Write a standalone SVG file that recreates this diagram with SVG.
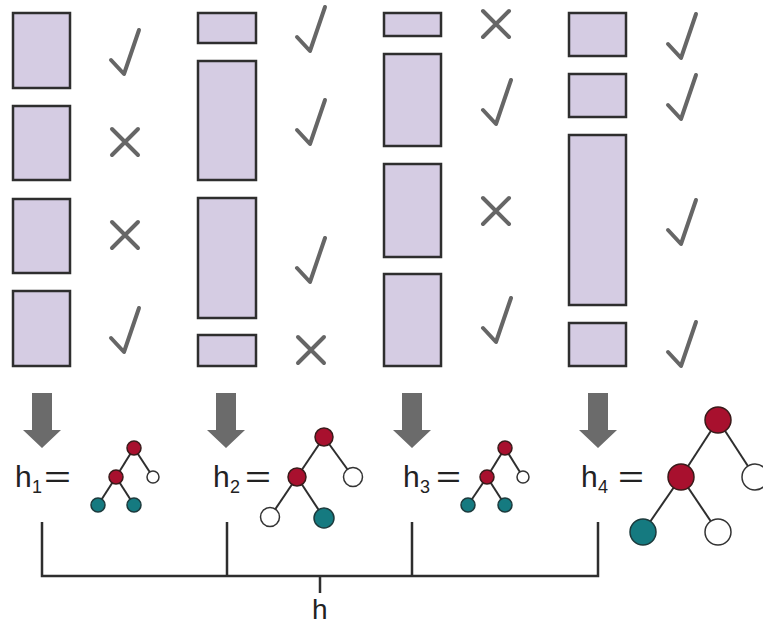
<svg xmlns="http://www.w3.org/2000/svg" xmlns:xlink="http://www.w3.org/1999/xlink" width="763" height="627" viewBox="0 0 763 627">
<style>
.bar{fill:#d5cce3;stroke:#2e2e2e;stroke-width:2.5}
.mark{fill:none;stroke:#666;stroke-width:4;stroke-linecap:round;stroke-linejoin:round}
.arrow{fill:#6b6b6b}
.edge{stroke:#2e2e2e;stroke-width:2;fill:none}
.red{fill:#a8102e;stroke:#3a1a1a;stroke-width:1.5}
.teal{fill:#157a80;stroke:#1c3a3c;stroke-width:1.5}
.wht{fill:#fff;stroke:#333;stroke-width:1.5}
.lbl{font-family:"Liberation Sans",Arial,sans-serif;fill:#222}
.brk{stroke:#2e2e2e;stroke-width:2.5;fill:none}
</style>
<defs>
<path id="chk" d="M-13,-14 L0,0 L15,-44"/>
<path id="xx" d="M-13,-13 L13,13 M13,-13 L-13,13"/>
<path id="arr" d="M-10,393 H10 V430 H19 L0,448 L-19,430 H-10 Z"/>
</defs>
<rect width="763" height="627" fill="#fff"/>

<g id="column1">
<rect class="bar" x="13" y="13" width="57" height="75"/>
<rect class="bar" x="13" y="106" width="57" height="74"/>
<rect class="bar" x="13" y="199" width="57" height="74"/>
<rect class="bar" x="13" y="291" width="57" height="75"/>
<use href="#chk" class="mark" x="124" y="74"/>
<use href="#xx" class="mark" x="125" y="142"/>
<use href="#xx" class="mark" x="125" y="235"/>
<use href="#chk" class="mark" x="124" y="352"/>
</g>

<g id="column2">
<rect class="bar" x="198" y="13" width="58" height="30"/>
<rect class="bar" x="198" y="61" width="58" height="119"/>
<rect class="bar" x="198" y="198" width="58" height="120"/>
<rect class="bar" x="198" y="335" width="58" height="31"/>
<use href="#chk" class="mark" x="310" y="51"/>
<use href="#chk" class="mark" x="310" y="144"/>
<use href="#chk" class="mark" x="310" y="282"/>
<use href="#xx" class="mark" x="311" y="350"/>
</g>

<g id="column3">
<rect class="bar" x="384" y="13" width="57" height="23"/>
<rect class="bar" x="384" y="54" width="57" height="92"/>
<rect class="bar" x="384" y="164" width="57" height="93"/>
<rect class="bar" x="384" y="274" width="57" height="92"/>
<use href="#xx" class="mark" x="496" y="24"/>
<use href="#chk" class="mark" x="496" y="124"/>
<use href="#xx" class="mark" x="496" y="211"/>
<use href="#chk" class="mark" x="496" y="342"/>
</g>

<g id="column4">
<rect class="bar" x="569" y="13" width="57" height="43"/>
<rect class="bar" x="569" y="74" width="57" height="43"/>
<rect class="bar" x="569" y="135" width="57" height="170"/>
<rect class="bar" x="569" y="323" width="57" height="43"/>
<use href="#chk" class="mark" x="681" y="58"/>
<use href="#chk" class="mark" x="681" y="119"/>
<use href="#chk" class="mark" x="681" y="244"/>
<use href="#chk" class="mark" x="681" y="366"/>
</g>

<g id="arrows">
<use href="#arr" class="arrow" x="42"/>
<use href="#arr" class="arrow" x="226"/>
<use href="#arr" class="arrow" x="412"/>
<use href="#arr" class="arrow" x="598"/>
</g>

<g id="h1">
<text class="lbl" x="15" y="487" font-size="30">h</text>
<text class="lbl" x="32" y="493" font-size="18">1</text>
<text class="lbl" x="44" y="487" font-size="30" textLength="27" lengthAdjust="spacingAndGlyphs">=</text>
<g id="tree1">
<line class="edge" x1="134" y1="448" x2="116" y2="477"/>
<line class="edge" x1="134" y1="448" x2="153" y2="477"/>
<line class="edge" x1="116" y1="477" x2="98" y2="505"/>
<line class="edge" x1="116" y1="477" x2="134" y2="505"/>
<circle class="red" cx="134" cy="448" r="7"/>
<circle class="red" cx="116" cy="477" r="7"/>
<circle class="wht" cx="153" cy="477" r="6"/>
<circle class="teal" cx="98" cy="505" r="7"/>
<circle class="teal" cx="134" cy="505" r="7"/>
</g>
</g>

<g id="h2">
<text class="lbl" x="213" y="487" font-size="30">h</text>
<text class="lbl" x="230" y="493" font-size="18">2</text>
<text class="lbl" x="245" y="487" font-size="30" textLength="26" lengthAdjust="spacingAndGlyphs">=</text>
<g id="tree2">
<line class="edge" x1="324" y1="437" x2="297" y2="477"/>
<line class="edge" x1="324" y1="437" x2="353" y2="477"/>
<line class="edge" x1="297" y1="477" x2="270" y2="517"/>
<line class="edge" x1="297" y1="477" x2="324" y2="518"/>
<circle class="red" cx="324" cy="437" r="9"/>
<circle class="red" cx="297" cy="477" r="9"/>
<circle class="wht" cx="353" cy="477" r="9.5"/>
<circle class="wht" cx="270" cy="517" r="9.5"/>
<circle class="teal" cx="324" cy="518" r="10"/>
</g>
</g>

<g id="h3">
<text class="lbl" x="403" y="487" font-size="30">h</text>
<text class="lbl" x="420" y="493" font-size="18">3</text>
<text class="lbl" x="436" y="487" font-size="30" textLength="25" lengthAdjust="spacingAndGlyphs">=</text>
<g id="tree3">
<line class="edge" x1="505" y1="448" x2="487" y2="477"/>
<line class="edge" x1="505" y1="448" x2="523" y2="477"/>
<line class="edge" x1="487" y1="477" x2="468" y2="505"/>
<line class="edge" x1="487" y1="477" x2="505" y2="505"/>
<circle class="red" cx="505" cy="448" r="7"/>
<circle class="red" cx="487" cy="477" r="7"/>
<circle class="wht" cx="523" cy="477" r="6"/>
<circle class="teal" cx="468" cy="505" r="7"/>
<circle class="teal" cx="505" cy="505" r="7"/>
</g>
</g>

<g id="h4">
<text class="lbl" x="581" y="487" font-size="30">h</text>
<text class="lbl" x="598" y="493" font-size="18">4</text>
<text class="lbl" x="618" y="487" font-size="30" textLength="26" lengthAdjust="spacingAndGlyphs">=</text>
<g id="tree4">
<line class="edge" x1="718" y1="420" x2="681" y2="477"/>
<line class="edge" x1="718" y1="420" x2="755" y2="477"/>
<line class="edge" x1="681" y1="477" x2="643" y2="532"/>
<line class="edge" x1="681" y1="477" x2="718" y2="532"/>
<circle class="red" cx="718" cy="420" r="13"/>
<circle class="red" cx="681" cy="477" r="13"/>
<circle class="wht" cx="755" cy="477" r="13"/>
<circle class="teal" cx="643" cy="532" r="13"/>
<circle class="wht" cx="718" cy="532" r="13"/>
</g>
</g>

<g id="connectors">
<path class="brk" d="M42,522 V576 H598 V522 M227,522 V576 M412,522 V576 M320,576 V593"/>
</g>
<g id="h">
<text class="lbl" x="312" y="619" font-size="28">h</text>
</g>
</svg>
